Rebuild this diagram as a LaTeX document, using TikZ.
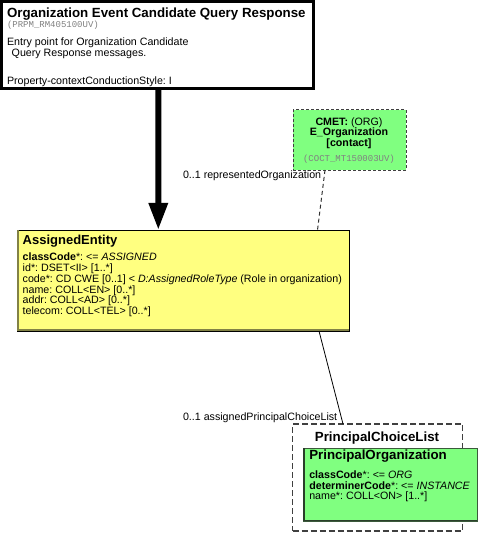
\documentclass[tikz,border=0pt]{standalone}
\usepackage{fontspec}
\setmainfont{Liberation Sans}
\newfontfamily\monof{Liberation Mono}
\usetikzlibrary{arrows.meta,calc}
\definecolor{entgreen}{RGB}{128,255,128}
\definecolor{roleyellow}{RGB}{255,255,128}
\definecolor{codegray}{RGB}{128,128,128}
\definecolor{yshade}{RGB}{130,130,70}
\definecolor{gshade}{RGB}{60,90,60}
\newcommand\fTitle{\fontsize{13.3bp}{15bp}\selectfont\bfseries}
\newcommand\fBody{\fontsize{10.67bp}{12bp}\selectfont}
\newcommand\fMono{\fontsize{9bp}{10bp}\selectfont\monof}
\frenchspacing
\begin{document}
\begin{tikzpicture}[x=1bp,y=-1bp,
  box/.style={draw, rectangle, anchor=north west, inner sep=0, outer sep=0},
  txt/.style={anchor=base west, inner sep=0, outer sep=0, font=\fBody},
  ctxt/.style={anchor=base, inner sep=0, outer sep=0, font=\fBody},
  ttl/.style={anchor=base west, inner sep=0, outer sep=0, font=\fTitle},
  code/.style={anchor=base west, inner sep=0, outer sep=0, font=\fMono, text=codegray},
  conn/.style={line width=0.8bp, black},
  dconn/.style={line width=1bp, black!80, dash pattern=on 4bp off 3bp}]
\useasboundingbox (0,0) rectangle (478,533);
% boxes
\node[box, line width=2.5bp, minimum width=311.8bp, minimum height=86.8bp] (top) at (1.5,1.5) {};
\node[box, fill=entgreen, draw=black!75, line width=1bp, dash pattern=on 3bp off 2bp, minimum width=113bp, minimum height=60bp] (cmet) at (293,110) {};
\node[box, fill=roleyellow, line width=0.8bp, minimum width=332bp, minimum height=101bp] (assigned) at (17,230) {};
\draw[yshade, line width=1.6bp] ([xshift=0.8bp]assigned.north west) -- ([xshift=0.8bp,yshift=0.8bp]assigned.south west) -- ([yshift=0.8bp]assigned.south east);
\node[box, draw=black!75, line width=1.2bp, dash pattern=on 6bp off 3bp, minimum width=170bp, minimum height=107bp] (choice) at (292.5,424) {};
\node[box, fill=entgreen, draw=gshade, line width=1bp, minimum width=174bp, minimum height=73bp] (porg) at (303.3,448) {};
\draw[gshade!70!black, line width=1.5bp] ([xshift=0.5bp]porg.north west) -- ([xshift=0.5bp,yshift=0.5bp]porg.south west) -- ([yshift=0.5bp]porg.south east);
% top box text
\node[ttl] (t1) at (7,17.5) {Organization Event Candidate Query Response};
\node[code] (t2) at (7,27.5) {(PRPM\_RM405100UV)};
\node[txt] (t3) at (7,46) {Entry point for Organization Candidate};
\node[txt] (t4) at (11.7,57) {Query Response messages.};
\node[txt] (t5) at (7,85) {Property-contextConductionStyle: I};
% CMET text
\node[ctxt] (c1) at (349,125.5) {\textbf{CMET:} (ORG)};
\node[ctxt, font=\fBody\bfseries] (c2) at (349,136) {E\_Organization};
\node[ctxt, font=\fBody\bfseries] (c3) at (349,146.5) {[contact]};
\node[ctxt, font=\fMono, text=codegray] (c4) at (349,161.5) {(COCT\_MT150003UV)};
% AssignedEntity text
\node[ttl, font=\fontsize{13bp}{15bp}\selectfont\bfseries] (a0) at (22.7,244) {AssignedEntity};
\node[txt] (a1) at (22.7,260.7) {\textbf{classCode}*: <= \textit{ASSIGNED}};
\node[txt] (a2) at (22.7,271.5) {id*: DSET<II> [1..*]};
\node[txt] (a3) at (22.7,282.3) {code*: CD CWE [0..1] < \textit{D:AssignedRoleType} (Role in organization)};
\node[txt] (a4) at (22.7,293.1) {name: COLL<EN> [0..*]};
\node[txt] (a5) at (22.7,303.9) {addr: COLL<AD> [0..*]};
\node[txt] (a6) at (22.7,314.7) {telecom: COLL<TEL> [0..*]};
% Choice / PrincipalOrganization text
\node[ttl, anchor=base] (p0) at (377,441) {PrincipalChoiceList};
\node[ttl] (p1) at (309.3,459) {PrincipalOrganization};
\node[txt] (p2) at (309.3,478.3) {\textbf{classCode}*: <= \textit{ORG}};
\node[txt] (p3) at (309.3,489) {\textbf{determinerCode}*: <= \textit{INSTANCE}};
\node[txt] (p4) at (309.3,499.7) {name*: COLL<ON> [1..*]};
% connectors
\draw[line width=6bp, -{Triangle[width=18bp,length=27bp]}] ([xshift=156.8bp]top.south west) -- ([xshift=141.3bp]assigned.north west);
\draw[dconn] ([xshift=32bp]cmet.south west) -- ([xshift=300.5bp]assigned.north west);
\draw[conn] ([xshift=302bp]assigned.south west) -- ([xshift=50.5bp]choice.north west);
% labels
\node[txt] (l1) at (183,179) {0..1 representedOrganization};
\node[txt] (l2) at (183,420) {0..1 assignedPrincipalChoiceList};
\end{tikzpicture}
\end{document}
